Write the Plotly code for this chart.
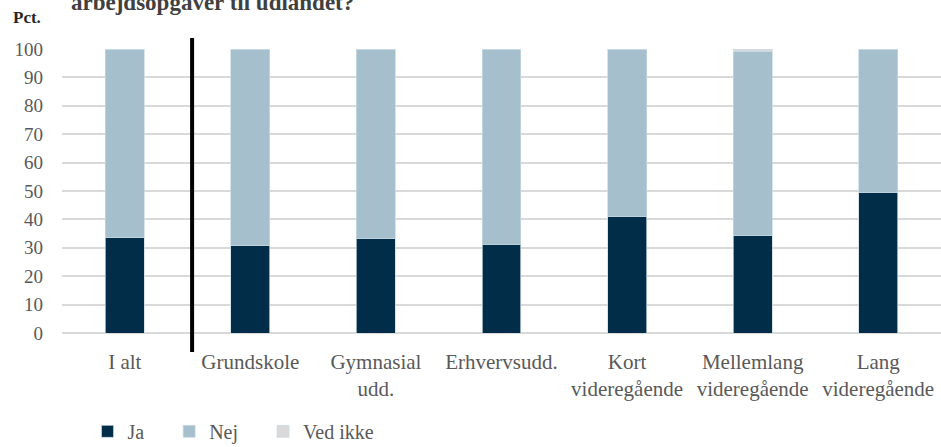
import plotly.graph_objects as go

categories = ["I alt", "Grundskole", "Gymnasial<br>udd.", "Erhvervsudd.",
              "Kort<br>videregående", "Mellemlang<br>videregående", "Lang<br>videregående"]
ja = [33.6, 30.7, 33.2, 31.3, 41.0, 34.2, 49.3]
ved_ikke = [0.1, 0.1, 0.1, 0.1, 0.1, 0.8, 0.3]
nej = [round(100 - a - c, 1) for a, c in zip(ja, ved_ikke)]
y_ticks = list(range(0, 101, 10))

FONT = "Liberation Serif"
GRAY = "#595959"

fig = go.Figure()
for name, vals, col in [("Ja", ja, "#022d48"), ("Nej", nej, "#a5bfcd"), ("Ved ikke", ved_ikke, "#d9d9d9")]:
    fig.add_trace(go.Bar(
        x=categories, y=vals, name=name + "\u00a0\u00a0\u00a0\u00a0",
        marker=dict(color=col, line=dict(color="rgba(200,218,228,0.9)", width=0.8)),
        width=0.31,
    ))

fig.update_layout(
    width=941, height=447,
    barmode="stack",
    paper_bgcolor="white", plot_bgcolor="white",
    margin=dict(l=62, r=0, t=49, b=114, autoexpand=False),
    font=dict(family=FONT, size=20, color=GRAY),
    showlegend=True,
    legend=dict(orientation="h", x=0.029, xanchor="left", y=-0.415, yanchor="bottom",
                font=dict(family=FONT, size=20, color=GRAY), borderwidth=0,
                traceorder="normal", itemclick=False),
    xaxis=dict(showgrid=False, showline=False, ticks="", tickfont=dict(size=21, color=GRAY),
               ticklabelstandoff=14, automargin=False),
    yaxis=dict(range=[0, 100], tickvals=y_ticks, showgrid=True, gridcolor="#d9d9d9", gridwidth=1.5,
               zeroline=True, zerolinecolor="#d9d9d9", zerolinewidth=1.5,
               showline=False, ticks="", tickfont=dict(size=19, color=GRAY),
               ticklabelstandoff=18, automargin=False),
)

# vertical separator between "I alt" and the education groups
fig.add_shape(type="line", xref="x", yref="paper", x0=0.536, x1=0.536, y0=-0.067, y1=1.039,
              line=dict(color="black", width=4))

fig.add_annotation(text="<b>arbejdsopgaver til udlandet?</b>", xref="paper", yref="paper",
                   x=0.008, xanchor="left", y=1.113, yanchor="bottom", showarrow=False,
                   font=dict(family=FONT, size=23, color="#404040"))
fig.add_annotation(text="<b>Pct.</b>", xref="paper", yref="paper",
                   x=-0.040, xanchor="center", y=1.112, yanchor="middle", showarrow=False,
                   font=dict(family=FONT, size=17, color="#262626"))

fig.write_html("out.html", config={"displayModeBar": False},
               post_script="document.body.style.margin='0px';document.body.style.overflow='hidden';")
